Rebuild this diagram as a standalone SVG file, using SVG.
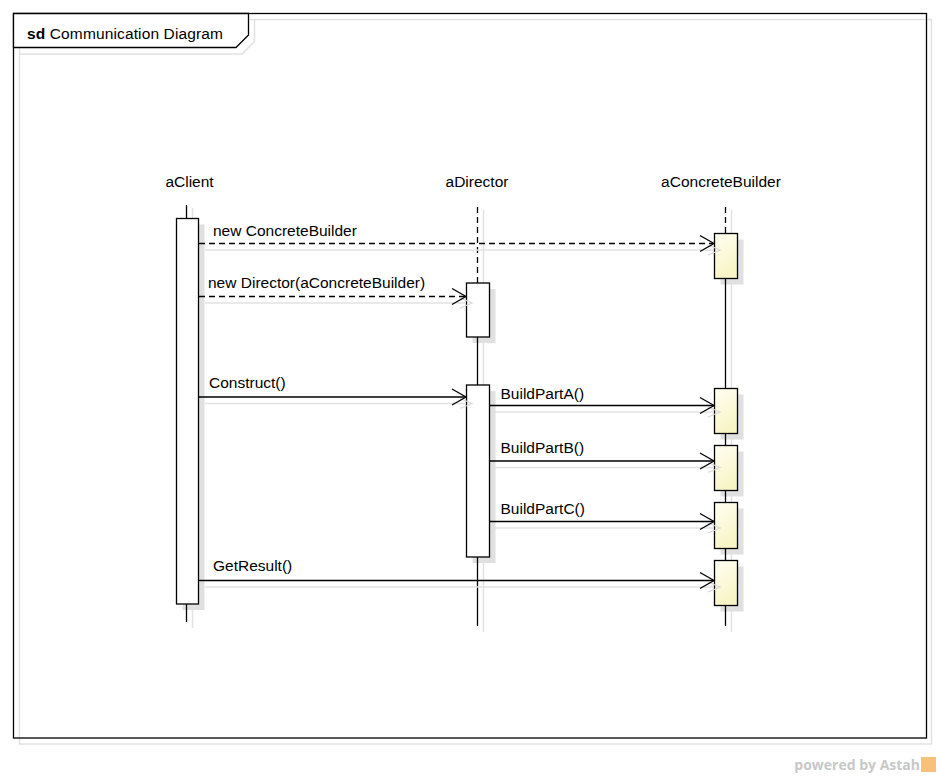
<svg xmlns="http://www.w3.org/2000/svg" width="940" height="778" viewBox="0 0 940 778">
<style>
text{font-family:"Liberation Sans",Arial,sans-serif;font-size:15.5px;fill:#000}
.ln{stroke:#000;stroke-width:1.3;fill:none}
.dash{stroke:#000;stroke-width:1.3;fill:none;stroke-dasharray:6 4}
.sh{stroke:#e2e2e2;stroke-width:1.5;fill:none}
.shr{fill:#e0e0e0;stroke:none}
.act{fill:#fff;stroke:#000;stroke-width:1.3}
.actY{fill:url(#yg);stroke:#000;stroke-width:1.3}
.head{stroke:#000;stroke-width:1.3;fill:none}
.headsh{stroke:#d8d8d8;stroke-width:1.3;fill:none}
</style>
<defs>
<linearGradient id="yg" x1="0" y1="0" x2="0.4" y2="1">
<stop offset="0" stop-color="#fffff4"/>
<stop offset="1" stop-color="#f8f4c6"/>
</linearGradient>
</defs>
<rect width="940" height="778" fill="#fff"/>

<g id="frame">
<rect x="19.5" y="19.5" width="912" height="724.5" class="sh"/>
<polyline points="19.5,54 242,54 254.5,41.5 254.5,19.5" class="sh"/>
<rect x="13.5" y="13.5" width="913" height="724.5" fill="none" stroke="#000" stroke-width="1.3"/>
<polygon points="13.5,13.5 248.5,13.5 248.5,35 236,47.5 13.5,47.5" fill="#fff" stroke="#000" stroke-width="1.3"/>
<text x="27" y="38.5" textLength="196" lengthAdjust="spacing"><tspan font-weight="bold">sd</tspan> Communication Diagram</text>
</g>

<g id="aClient">
<text x="189.5" y="187" text-anchor="middle">aClient</text>
<line x1="192.5" y1="208" x2="192.5" y2="628" class="sh"/>
<rect x="182.5" y="224.5" width="22" height="385.5" class="shr"/>
<line x1="186.5" y1="205" x2="186.5" y2="218.5" class="ln"/>
<rect x="176.5" y="218.5" width="22" height="385.5" class="act"/>
<line x1="186.5" y1="604" x2="186.5" y2="622" class="ln"/>
</g>

<g id="aDirector">
<text x="477" y="187" text-anchor="middle">aDirector</text>
<line x1="483.5" y1="210" x2="483.5" y2="632" class="sh"/>
<rect x="472.5" y="289" width="23" height="54" class="shr"/>
<rect x="472.5" y="391" width="23" height="172" class="shr"/>
<line x1="477.5" y1="207" x2="477.5" y2="283" class="dash"/>
<rect x="466.5" y="283" width="23" height="54" class="act"/>
<line x1="477.5" y1="337" x2="477.5" y2="385" class="ln"/>
<rect x="466.5" y="385" width="23" height="172" class="act"/>
<line x1="477.5" y1="557" x2="477.5" y2="626" class="ln"/>
</g>

<g id="aConcreteBuilder">
<text x="721" y="187" text-anchor="middle">aConcreteBuilder</text>
<line x1="731.5" y1="210" x2="731.5" y2="632" class="sh"/>
<rect x="720.5" y="239.5" width="23" height="45" class="shr"/>
<rect x="720.5" y="394.5" width="23" height="45" class="shr"/>
<rect x="720.5" y="451.5" width="23" height="45" class="shr"/>
<rect x="720.5" y="508.5" width="23" height="46" class="shr"/>
<rect x="720.5" y="566.5" width="23" height="45" class="shr"/>
<line x1="725.5" y1="207" x2="725.5" y2="233.5" class="dash"/>
<line x1="725.5" y1="278.5" x2="725.5" y2="626" class="ln"/>
<rect x="714.5" y="233.5" width="23" height="45" class="actY"/>
<rect x="714.5" y="388.5" width="23" height="45" class="actY"/>
<rect x="714.5" y="445.5" width="23" height="45" class="actY"/>
<rect x="714.5" y="502.5" width="23" height="46" class="actY"/>
<rect x="714.5" y="560.5" width="23" height="45" class="actY"/>
</g>

<g id="connectors">
<line x1="205" y1="250" x2="714" y2="250" class="sh"/>
<line x1="205" y1="303" x2="466" y2="303" class="sh"/>
<line x1="205" y1="403.5" x2="466" y2="403.5" class="sh"/>
<line x1="495" y1="412" x2="714" y2="412" class="sh"/>
<line x1="495" y1="467.5" x2="714" y2="467.5" class="sh"/>
<line x1="495" y1="528" x2="714" y2="528" class="sh"/>
<line x1="205" y1="587" x2="714" y2="587" class="sh"/>
<polyline points="708,245 720,250 708,255" class="headsh"/>
<polyline points="460,298 472,303 460,308" class="headsh"/>
<polyline points="460,398.5 472,403.5 460,408.5" class="headsh"/>
<polyline points="708,407 720,412 708,417" class="headsh"/>
<polyline points="708,462.5 720,467.5 708,472.5" class="headsh"/>
<polyline points="708,523 720,528 708,533" class="headsh"/>
<polyline points="708,582 720,587 708,592" class="headsh"/>

<g id="m1">
<line x1="199" y1="243.5" x2="713" y2="243.5" class="dash"/>
<polyline points="700,235.5 714,243.5 700,251.5" class="head"/>
<text x="213" y="236">new ConcreteBuilder</text>
</g>
<g id="m2">
<line x1="199" y1="296.5" x2="465" y2="296.5" class="dash"/>
<polyline points="452,288.5 466,296.5 452,304.5" class="head"/>
<text x="208" y="288">new Director(aConcreteBuilder)</text>
</g>
<g id="m3">
<line x1="199" y1="397" x2="466" y2="397" class="ln"/>
<polyline points="452,389 466,397 452,405" class="head"/>
<text x="209" y="388">Construct()</text>
</g>
<g id="m4">
<line x1="489.5" y1="405.5" x2="714" y2="405.5" class="ln"/>
<polyline points="700,397.5 714,405.5 700,413.5" class="head"/>
<text x="500.5" y="399">BuildPartA()</text>
</g>
<g id="m5">
<line x1="489.5" y1="461" x2="714" y2="461" class="ln"/>
<polyline points="700,453 714,461 700,469" class="head"/>
<text x="500.5" y="453">BuildPartB()</text>
</g>
<g id="m6">
<line x1="489.5" y1="521.5" x2="714" y2="521.5" class="ln"/>
<polyline points="700,513.5 714,521.5 700,529.5" class="head"/>
<text x="500.5" y="514">BuildPartC()</text>
</g>
<g id="m7">
<line x1="199" y1="580.5" x2="714" y2="580.5" class="ln"/>
<polyline points="700,572.5 714,580.5 700,588.5" class="head"/>
<text x="213" y="571">GetResult()</text>
</g>
</g>

<g id="watermark">
<text x="920" y="770" text-anchor="end" style="font-family:'Open Sans','Liberation Sans',sans-serif;font-size:14px;font-weight:bold;fill:#c8c8c8">powered by Astah</text>
<rect x="921" y="757" width="15" height="15" fill="#f5b25a" opacity="0.8"/>
</g>
</svg>
